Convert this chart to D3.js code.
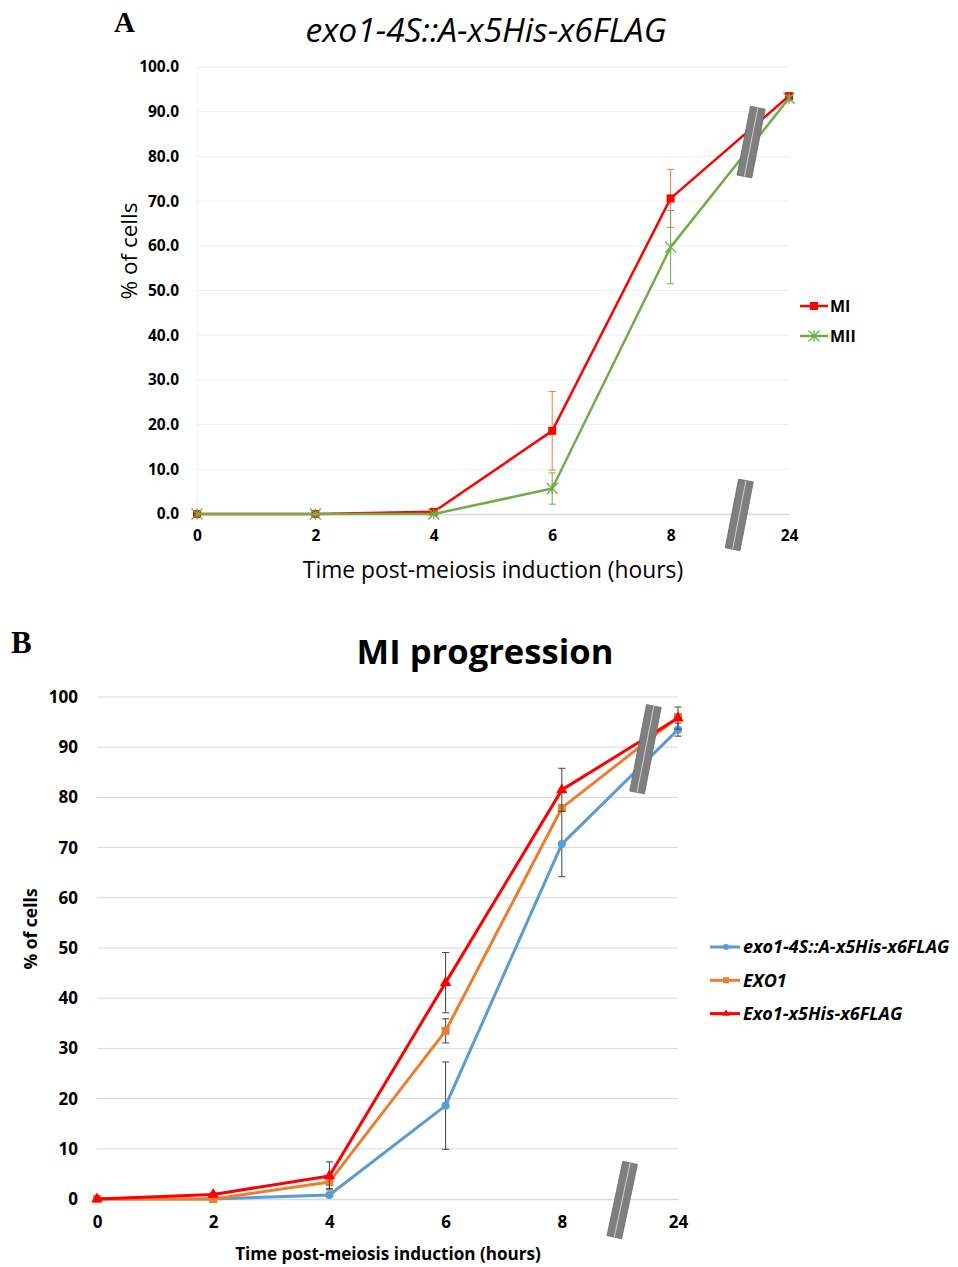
<!DOCTYPE html>
<html>
<head>
<meta charset="utf-8">
<script src="https://cdn.jsdelivr.net/npm/d3@7"></script>
<style>
  body { margin: 0; background: #fff; }
  svg { display: block; font-family: "Open Sans", Lato, sans-serif; }
</style>
</head>
<body>
<svg width="958" height="1267"></svg>
<script>
// время после индукции мейоза, часы (ось категорий)
const timeLabels = ["0", "2", "4", "6", "8", "24"];

// панель A: exo1-4S::A-x5His-x6FLAG
const aMI = [0, 0, 0.5, 18.6, 70.6, 93.5];
const aMIErr = [0, 0, 0.3, 8.8, 6.5, 0.8];
const aMII = [0, 0, 0, 5.7, 59.7, 93.0];
const aMIIErr = [0, 0, 0, 3.5, 8.2, 0.6];
const aLegend = ["MI", "MII"];
const aTicks = [0, 10, 20, 30, 40, 50, 60, 70, 80, 90, 100];

// панель B: MI progression
const bMutant = [0, 0, 0.8, 18.6, 70.7, 93.5];
const bMutantErr = [0, 0, 0.4, 8.7, 6.5, 1.3];
const bWT = [0, 0, 3.4, 33.5, 77.9, 96.0];
const bWTErr = [0, 0, 1.3, 2.4, 0.6, 0.5];
const bTagged = [0, 0.9, 4.6, 43.1, 81.5, 95.8];
const bTaggedErr = [0, 0.3, 2.8, 6.0, 4.3, 2.2];
const bLegend = ["exo1-4S::A-x5His-x6FLAG", "EXO1", "Exo1-x5His-x6FLAG"];
const bTicks = [0, 10, 20, 30, 40, 50, 60, 70, 80, 90, 100];

const svg = d3.select("svg");

function markerPath(type, size) {
    if (type == "square") return d3.symbol(d3.symbolSquare, size * size)();
    if (type == "circle") return d3.symbol(d3.symbolCircle, size * size * 0.8)();
    if (type == "triangle") return d3.symbol(d3.symbolTriangle, size * size * 0.7)();
    // звездочка: крест + вертикальная линия
    const h = size / 2;
    return `M${-h},${-h}L${h},${h}M${-h},${h}L${h},${-h}M0,${-h}L0,${h}`;
}

function drawMarker(g, type, size, color, x, y) {
    const p = g.append("path")
        .attr("d", markerPath(type, size))
        .attr("transform", `translate(${x},${y})`);
    if (type == "star") p.style("fill", "none").style("stroke", color).style("stroke-width", 1.3);
    else p.style("fill", color);
}

function drawBreak(g, x, y, len, angle) {
    const b = g.append("g").attr("transform", `translate(${x},${y}) rotate(${angle})`);
    b.append("rect")
        .attr("x", -7.5).attr("y", -len / 2)
        .attr("width", 15).attr("height", len)
        .style("fill", "#7f7f7f")
        .style("stroke", "#6f6f6f")
        .style("stroke-width", 0.8);
    b.append("line")
        .attr("x1", 0).attr("x2", 0)
        .attr("y1", -len / 2).attr("y2", len / 2)
        .style("stroke", "#d0d0d0")
        .style("stroke-width", 1);
}

function drawSeries(g, scX, scY, s) {
    // усы погрешностей
    const eb = g.append("g");
    s.values.forEach((v, i) => {
        const e = s.err[i];
        if (!e) return;
        const x = scX(timeLabels[i]);
        eb.append("line")
            .attr("x1", x).attr("x2", x)
            .attr("y1", scY(v - e)).attr("y2", scY(v + e));
        [v - e, v + e].forEach(t => eb.append("line")
            .attr("x1", x - 3.5).attr("x2", x + 3.5)
            .attr("y1", scY(t)).attr("y2", scY(t)));
    });
    eb.selectAll("line").style("stroke", s.errColor).style("stroke-width", 1);

    const line = d3.line()
        .x((d, i) => scX(timeLabels[i]))
        .y(d => scY(d));
    g.append("path")
        .attr("d", line(s.values))
        .style("fill", "none")
        .style("stroke", s.color)
        .style("stroke-width", s.width)
        .style("stroke-linejoin", "round");

    s.values.forEach((v, i) => drawMarker(g, s.marker, s.size, s.color, scX(timeLabels[i]), scY(v)));
}

// ---------- панель A ----------
const areaA = { left: 197, right: 789, top: 67, bottom: 514 };
const scXA = d3.scalePoint().domain(timeLabels).range([areaA.left, areaA.right]);
const scYA = d3.scaleLinear().domain([0, 100]).range([areaA.bottom, areaA.top]);

const gA = svg.append("g");
gA.append("g")
    .selectAll("line")
    .data(aTicks.slice(1))
    .join("line")
    .attr("x1", areaA.left).attr("x2", areaA.right)
    .attr("y1", d => scYA(d)).attr("y2", d => scYA(d))
    .style("stroke", "#efefef");
gA.append("line")
    .attr("x1", areaA.left).attr("x2", areaA.left)
    .attr("y1", areaA.top).attr("y2", areaA.bottom)
    .style("stroke", "#f0f0f0");

const axYA = gA.append("g")
    .attr("transform", `translate(${areaA.left - 18},0)`)
    .call(d3.axisLeft(scYA).tickValues(aTicks).tickFormat(d3.format(".1f")).tickSize(0).tickPadding(0));
axYA.select(".domain").remove();
axYA.selectAll("text").style("font-size", "15.5px").style("font-weight", "bold").style("fill", "#000").style("font-family", "'Open Sans'");

const axXA = gA.append("g")
    .attr("transform", `translate(0,${areaA.bottom})`)
    .call(d3.axisBottom(scXA).tickSize(0).tickPadding(16));
axXA.select(".domain").style("stroke", "#d9d9d9").style("stroke-width", 1.3);
axXA.selectAll("text").style("font-size", "15.5px").style("font-weight", "bold").style("fill", "#000").style("font-family", "'Open Sans'");

drawSeries(gA, scXA, scYA, { values: aMI, err: aMIErr, color: "#ff0000", errColor: "#ed7d31", width: 2.5, marker: "square", size: 8 });
drawSeries(gA, scXA, scYA, { values: aMII, err: aMIIErr, color: "#70ad47", errColor: "#70ad47", width: 2.5, marker: "star", size: 11 });

// разрывы оси между 8 и 24
const stepA = scXA.step();
drawBreak(gA, scXA("8") + stepA * 0.68, scYA(83.2), 70, 11);
drawBreak(gA, scXA("8") + stepA * 0.58, scYA(-0.2), 70, 11);

// легенда A
const legA = [{ c: "#ff0000", m: "square", s: 8 }, { c: "#70ad47", m: "star", s: 11 }];
legA.forEach((d, i) => {
    const y = 306 + i * 30;
    gA.append("line").attr("x1", 800).attr("x2", 828).attr("y1", y).attr("y2", y)
        .style("stroke", d.c).style("stroke-width", 2.5);
    drawMarker(gA, d.m, d.s, d.c, 814, y);
    gA.append("text").attr("x", 830).attr("y", y).attr("dy", "0.35em")
        .style("font-size", "16px").style("font-weight", "bold")
        .text(aLegend[i]);
});

gA.append("text").attr("x", 486).attr("y", 42)
    .attr("text-anchor", "middle")
    .style("font-size", "33.5px").style("font-style", "italic")
    .text("exo1-4S::A-x5His-x6FLAG");
gA.append("text").attr("x", 114).attr("y", 32)
    .style("font-family", "'Liberation Serif', serif")
    .style("font-size", "29px").style("font-weight", "bold")
    .text("A");
gA.append("text")
    .attr("transform", "translate(137,251) rotate(-90)")
    .attr("text-anchor", "middle")
    .style("font-size", "22.5px")
    .text("% of cells");
gA.append("text").attr("x", 493).attr("y", 578)
    .attr("text-anchor", "middle")
    .style("font-size", "22.8px")
    .text("Time post-meiosis induction (hours)");

// ---------- панель B ----------
const areaB = { left: 97, right: 678, top: 697, bottom: 1199 };
const scXB = d3.scalePoint().domain(timeLabels).range([areaB.left, areaB.right]);
const scYB = d3.scaleLinear().domain([0, 100]).range([areaB.bottom, areaB.top]);

const gB = svg.append("g");
gB.append("g")
    .selectAll("line")
    .data(bTicks.slice(1))
    .join("line")
    .attr("x1", areaB.left).attr("x2", areaB.right)
    .attr("y1", d => scYB(d)).attr("y2", d => scYB(d))
    .style("stroke", "#d9d9d9");

const axYB = gB.append("g")
    .attr("transform", `translate(${areaB.left - 19},0)`)
    .call(d3.axisLeft(scYB).tickValues(bTicks).tickSize(0).tickPadding(0));
axYB.select(".domain").remove();
axYB.selectAll("text").style("font-size", "17px").style("font-weight", "bold").style("fill", "#000").style("font-family", "'Open Sans'");

const axXB = gB.append("g")
    .attr("transform", `translate(0,${areaB.bottom})`)
    .call(d3.axisBottom(scXB).tickSize(0).tickPadding(17));
axXB.select(".domain").style("stroke", "#d9d9d9").style("stroke-width", 1.3);
axXB.selectAll("text").style("font-size", "17px").style("font-weight", "bold").style("fill", "#000").style("font-family", "'Open Sans'");

const seriesB = [
    { values: bMutant, err: bMutantErr, color: "#5b9bd5", errColor: "#404040", width: 3, marker: "circle", size: 8 },
    { values: bWT, err: bWTErr, color: "#ed7d31", errColor: "#404040", width: 3, marker: "square", size: 8 },
    { values: bTagged, err: bTaggedErr, color: "#ff0000", errColor: "#404040", width: 3, marker: "triangle", size: 9 }
];
seriesB.forEach(s => drawSeries(gB, scXB, scYB, s));

const stepB = scXB.step();
drawBreak(gB, scXB("8") + stepB * 0.72, scYB(89.6), 88, 11);
drawBreak(gB, scXB("8") + stepB * 0.52, scYB(-0.2), 76, 12);

// легенда B
seriesB.forEach((s, i) => {
    const y = 947 + i * 33.3;
    gB.append("line").attr("x1", 710).attr("x2", 740).attr("y1", y).attr("y2", y)
        .style("stroke", s.color).style("stroke-width", 3);
    drawMarker(gB, s.marker, 6, s.color, 726, y);
    gB.append("text").attr("x", 743).attr("y", y).attr("dy", "0.35em")
        .style("font-size", "18px").style("font-weight", "bold").style("font-style", "italic")
        .text(bLegend[i]);
});

gB.append("text").attr("x", 485).attr("y", 664)
    .attr("text-anchor", "middle")
    .style("font-size", "34.6px").style("font-weight", "bold")
    .text("MI progression");
gB.append("text").attr("x", 11).attr("y", 653)
    .style("font-family", "'Liberation Serif', serif")
    .style("font-size", "31px").style("font-weight", "bold")
    .text("B");
gB.append("text")
    .attr("transform", "translate(37,929) rotate(-90)")
    .attr("text-anchor", "middle")
    .style("font-size", "17.5px").style("font-weight", "bold")
    .text("% of cells");
gB.append("text").attr("x", 388).attr("y", 1260)
    .attr("text-anchor", "middle")
    .style("font-size", "17.1px").style("font-weight", "bold")
    .text("Time post-meiosis induction (hours)");
</script>
</body>
</html>
